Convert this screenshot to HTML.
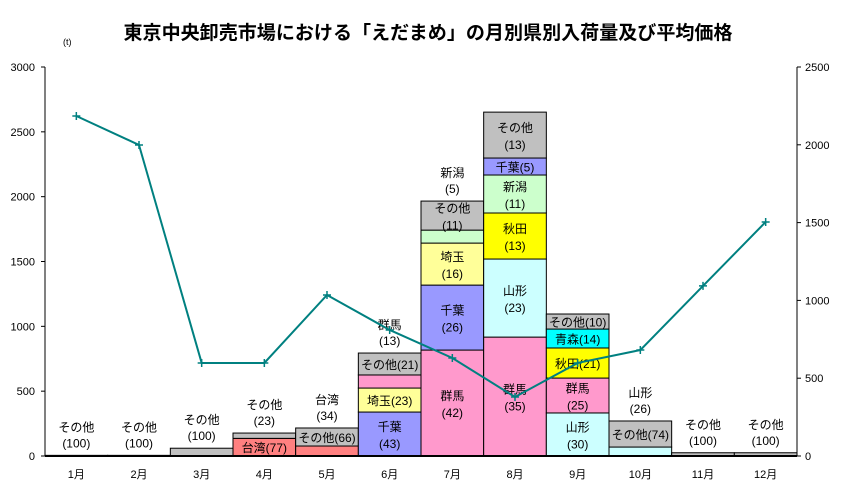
<!DOCTYPE html>
<html><head><meta charset="utf-8"><style>
body{margin:0;background:#fff}
svg{display:block;font-family:"Liberation Sans","Noto Sans CJK JP",sans-serif}
</style></head><body>
<svg id="c" width="852" height="489" viewBox="0 0 852 489">
<text x="428" y="39" text-anchor="middle" font-size="19" font-weight="bold" textLength="609" lengthAdjust="spacingAndGlyphs">東京中央卸売市場における「えだまめ」の月別県別入荷量及び平均価格</text>
<text x="63" y="45" font-size="9">(t)</text>
<g id="bars"></g><g id="lbl"></g><g id="axes"></g><g id="line"></g>
</svg>
<script>
const months=["1月","2月","3月","4月","5月","6月","7月","8月","9月","10月","11月","12月"];
const leftTicks=[0,500,1000,1500,2000,2500,3000];
const rightTicks=[0,500,1000,1500,2000,2500];
const prices=[2185,1999,598,598,1035,810,630,379,598,681,1093,1504];
const segNames=[["その他"],["その他"],["その他"],["台湾","その他"],["台湾","その他"],["千葉","埼玉","群馬","その他"],["群馬","千葉","埼玉","新潟","その他"],["群馬","山形","秋田","新潟","千葉","その他"],["山形","群馬","秋田","青森","その他"],["山形","その他"],["その他"],["その他"]];
const segValues=[[5],[5],[60],[136,41],[77,139],[339,185,101,169],[817,501,324,100,224],[917,602,355,293,131,354],[332,269,232,146,116],[69,201],[25],[25]];
const segPct=[["100"],["100"],["100"],["77","23"],["34","66"],["43","23","13","21"],["42","26","16","5","11"],["35","23","13","11","5","13"],["30","25","21","14","10"],["26","74"],["100"],["100"]];
const segMode=[["above"],["above"],["above"],["in1","above"],["above","in1"],["in2","in1","above","in1"],["in2","in2","in2","above","in2"],["in2","in2","in2","in2","in1","in2"],["in2","in2","in1","in1","in1"],["above","in1"],["above"],["above"]];
const colors={"その他":"#c0c0c0","台湾":"#ff8080","千葉":"#9999ff","埼玉":"#ffff99","群馬":"#ff99cc","新潟":"#ccffcc","山形":"#ccffff","秋田":"#ffff00","青森":"#00ffff"};
const X0=45,X1=797,Y0=456,Y1=67,cw=(X1-X0)/12;
const y=v=>Y0-v*(Y0-Y1)/3000, yr=v=>Y0-v*(Y0-Y1)/2500, cx=i=>X0+cw*(i+0.5);
const NS="http://www.w3.org/2000/svg";
function mk(t,a,p){const e=document.createElementNS(NS,t);for(const k in a)e.setAttribute(k,a[k]);p.appendChild(e);return e;}
const G=id=>document.getElementById(id);
function txt(x,yy,s,p){const t=mk("text",{x:x,y:yy,"text-anchor":"middle","font-size":"12"},p);t.textContent=s;

return t;}
months.forEach((m,i)=>{
  let acc=0;const x=X0+cw*i;
  segValues[i].forEach((v,j)=>{
    const top=y(acc+v),bot=y(acc);
    const r=mk("rect",{x:x,y:top,width:cw,height:bot-top,fill:colors[segNames[i][j]],stroke:"#000","stroke-width":1},G("bars"));
    
    
    const mode=segMode[i][j],n=segNames[i][j],p=segPct[i][j];
    const mid=(top+bot)/2;
    if(mode==="in2"){txt(cx(i),mid-3,n,G("lbl"));txt(cx(i),mid+14,"("+p+")",G("lbl"));}
    else if(mode==="in1"){txt(cx(i),mid+5,n+"("+p+")",G("lbl"));}
    acc+=v;
  });
  const totTop=y(acc);
  segMode[i].forEach((mode,j)=>{if(mode==="above"){txt(cx(i),totTop-24,segNames[i][j],G("lbl"));txt(cx(i),totTop-8,"("+segPct[i][j]+")",G("lbl"));}});
  const ml=mk("text",{x:cx(i),y:478,"text-anchor":"middle","font-size":"11"},G("axes"));ml.textContent=m;
  
  
});
const ax=G("axes");
let l=mk("line",{x1:X0,y1:Y1,x2:X0,y2:Y0,stroke:"#000"},ax);


l=mk("line",{x1:X1,y1:Y1,x2:X1,y2:Y0,stroke:"#000"},ax);


l=mk("line",{x1:X0,y1:Y0,x2:X1,y2:Y0,stroke:"#000","stroke-width":2},ax);


leftTicks.forEach(v=>{mk("line",{x1:X0-4,y1:y(v),x2:X0,y2:y(v),stroke:"#000"},ax);
  const t=mk("text",{x:35,y:y(v)+4,"text-anchor":"end","font-size":"11"},ax);t.textContent=v;
  
  });
rightTicks.forEach(v=>{mk("line",{x1:X1,y1:yr(v),x2:X1+4,y2:yr(v),stroke:"#000"},ax);
  const t=mk("text",{x:805,y:yr(v)+4,"font-size":"11"},ax);t.textContent=v;
  
  });
const pl=mk("polyline",{points:prices.map((v,i)=>cx(i)+","+yr(v)).join(" "),fill:"none",stroke:"#008080","stroke-width":2},G("line"));


prices.forEach((v,i)=>{const p=mk("path",{d:`M${cx(i)-4},${yr(v)}h8M${cx(i)},${yr(v)-4}v8`,stroke:"#008080","stroke-width":1.5},G("line"));
  
  });
</script>
</body></html>
